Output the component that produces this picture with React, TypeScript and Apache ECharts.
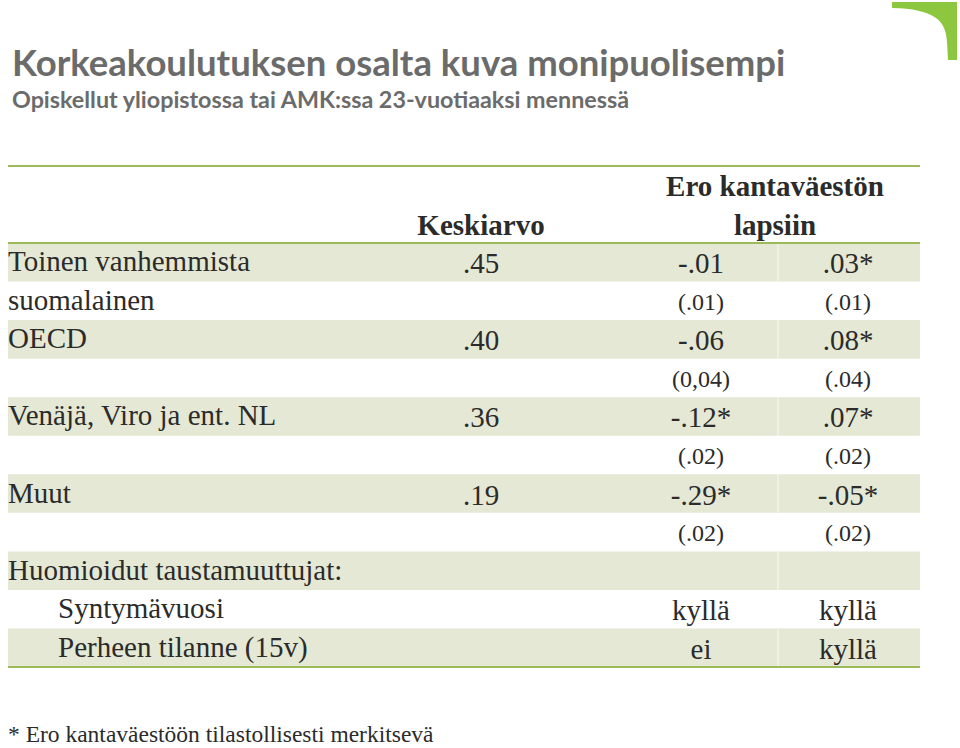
import React, { useEffect, useRef } from "react";
import * as echarts from "echarts";

const titleText = "Korkeakoulutuksen osalta kuva monipuolisempi";
const subtitleText = "Opiskellut yliopistossa tai AMK:ssa 23-vuotiaaksi mennessä";
const headerMean = "Keskiarvo";
const headerDiff = ["Ero kantaväestön", "lapsiin"];
const rowLabels = [
  "Toinen vanhemmista",
  "suomalainen",
  "OECD",
  "",
  "Venäjä, Viro ja ent. NL",
  "",
  "Muut",
  "",
  "Huomioidut taustamuuttujat:",
  "Syntymävuosi",
  "Perheen tilanne (15v)",
];
const indentedRows = [9, 10];
const meanValues = [".45", "", ".40", "", ".36", "", ".19", "", "", "", ""];
const diffModel1 = ["-.01", "(.01)", "-.06", "(0,04)", "-.12*", "(.02)", "-.29*", "(.02)", "", "kyllä", "ei"];
const diffModel2 = [".03*", "(.01)", ".08*", "(.04)", ".07*", "(.02)", "-.05*", "(.02)", "", "kyllä", "kyllä"];
const seRows = [1, 3, 5, 7];
const footnote = "* Ero kantaväestöön tilastollisesti merkitsevä";

const LOGO_D = "M892,2 L957,2 L957,60 L948,60 L947,42 C946,20 934,9 892,8 Z";

export default function App() {
  const ref = useRef<HTMLDivElement>(null);
  useEffect(() => {
    document.body.style.margin = "0";
    if (!ref.current) return;
    echarts.graphic.registerShape("logo", echarts.graphic.extendPath(LOGO_D, {}));
    const chart = echarts.init(ref.current, undefined, { renderer: "svg" });

    const serif = "'Liberation Serif', serif";
    const sans = "Lato, 'Noto Sans', sans-serif";
    const left = 8;
    const right = 920;
    const tableTop = 166;
    const headerBottom = 243;
    const rowH = 38.55;
    const colMean = 481;
    const col1 = 701;
    const col2 = 848;
    const colSep = 778;
    const green = "#9bbb59";
    const fill = "#e4e8d4";
    const textColor = "#2b2b2b";

    const els: any[] = [];
    els.push({ type: "logo", x: 0, y: 0, style: { fill: "#8dc63f" } });
    els.push({
      type: "text", x: 12, y: 62,
      style: { text: titleText, font: `bold 36.5px ${sans}`, fill: "#6b6b6b", textVerticalAlign: "middle" },
    });
    els.push({
      type: "text", x: 12, y: 99,
      style: { text: subtitleText, font: `bold 23.3px ${sans}`, fill: "#6b6b6b", textVerticalAlign: "middle" },
    });

    rowLabels.forEach((_, i) => {
      const y = headerBottom + i * rowH;
      if (i % 2 === 0) {
        els.push({ type: "rect", shape: { x: left, y, width: right - left, height: rowH }, style: { fill } });
        els.push({ type: "line", shape: { x1: colSep, y1: y, x2: colSep, y2: y + rowH }, style: { stroke: "#f2f4ea", lineWidth: 1.5 } });
      }
    });
    const bottom = headerBottom + rowLabels.length * rowH;
    [tableTop, headerBottom, bottom].forEach((y) => {
      els.push({ type: "line", shape: { x1: left, y1: y, x2: right, y2: y }, style: { stroke: green, lineWidth: 2 } });
    });

    els.push({
      type: "text", x: colMean, y: 225,
      style: { text: headerMean, font: `bold 29px ${serif}`, fill: textColor, textAlign: "center", textVerticalAlign: "middle" },
    });
    headerDiff.forEach((t, k) => {
      els.push({
        type: "text", x: 775, y: 186 + k * 39,
        style: { text: t, font: `bold 29px ${serif}`, fill: textColor, textAlign: "center", textVerticalAlign: "middle" },
      });
    });

    rowLabels.forEach((label, i) => {
      const cy = headerBottom + i * rowH + rowH / 2 + 1;
      const small = seRows.includes(i);
      if (label) {
        els.push({
          type: "text", x: indentedRows.includes(i) ? 58 : left, y: cy - 2,
          style: { text: label, font: `29px ${serif}`, fill: textColor, textVerticalAlign: "middle" },
        });
      }
      const vals: [string, number][] = [[meanValues[i], colMean], [diffModel1[i], col1], [diffModel2[i], col2]];
      vals.forEach(([v, x]) => {
        if (!v) return;
        els.push({
          type: "text", x, y: cy,
          style: { text: v, font: `${small ? 24 : 29}px ${serif}`, fill: textColor, textAlign: "center", textVerticalAlign: "middle" },
        });
      });
    });

    els.push({
      type: "text", x: left, y: 734,
      style: { text: footnote, font: `23.5px ${serif}`, fill: textColor, textVerticalAlign: "middle" },
    });

    chart.setOption({ animation: false, graphic: { elements: els } });
    return () => chart.dispose();
  }, []);
  return <div ref={ref} style={{ width: 960, height: 748 }} />;
}
